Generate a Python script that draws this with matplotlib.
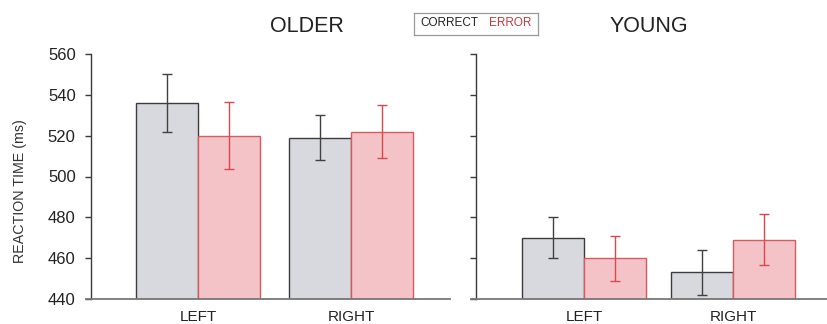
import matplotlib
matplotlib.use("Agg")
import matplotlib.pyplot as plt
import numpy as np

plt.rcParams['font.family'] = ['Liberation Sans', 'DejaVu Sans']

categories = ["LEFT", "RIGHT"]
panels = ["OLDER", "YOUNG"]
older_correct = [536, 519]
older_correct_err = [14, 11]
older_error = [520, 522]
older_error_err = [16.5, 13]
young_correct = [470, 453]
young_correct_err = [10, 11]
young_error = [460, 469]
young_error_err = [11, 12.5]
yticks = [440, 460, 480, 500, 520, 540, 560]

W, H = 828, 324
fig = plt.figure(figsize=(W / 100, H / 100), dpi=100)

gray_fill = '#d8d9de'
gray_edge = '#3c3c3c'
red_fill = '#f4c3c7'
red_edge = '#d65a5e'
red_err = '#d9484c'
gray_err = '#404040'

def px_axes(x0, x1, y0, y1):
    return fig.add_axes([x0 / W, (H - y1) / H, (x1 - x0) / W, (y1 - y0) / H])

specs = [
    dict(x0=86, x1=450, c0=198, spacing=153, data=(older_correct, older_correct_err, older_error, older_error_err), labels=True, title=panels[0], tx=307),
    dict(x0=471, x1=828, c0=584, spacing=149, data=(young_correct, young_correct_err, young_error, young_error_err), labels=False, title=panels[1], tx=649),
]

barw_px = 61.7
for s in specs:
    ax = px_axes(s['x0'], s['x1'], 54, 299)
    sp = s['spacing']
    ax.set_xlim((s['x0'] - s['c0']) / sp, (s['x1'] - s['c0']) / sp)
    ax.set_ylim(440, 560)
    bw = barw_px / sp
    x = np.arange(len(categories))
    c, ce, e, ee = s['data']
    ax.bar(x - bw / 2, np.array(c) - 440, bw, bottom=440, color=gray_fill, edgecolor=gray_edge, linewidth=1.0, zorder=2)
    ax.bar(x + bw / 2, np.array(e) - 440, bw, bottom=440, color=red_fill, edgecolor=red_edge, linewidth=1.0, zorder=2)
    ax.errorbar(x - bw / 2, c, yerr=ce, fmt='none', ecolor=gray_err, elinewidth=1.0, capsize=3.5, capthick=1.0, zorder=3)
    ax.errorbar(x + bw / 2, e, yerr=ee, fmt='none', ecolor=red_err, elinewidth=1.0, capsize=3.5, capthick=1.0, zorder=3)
    for k in ['top', 'right']:
        ax.spines[k].set_visible(False)
    ax.spines['left'].set_position(('axes', 5 / (s['x1'] - s['x0'])))
    ax.spines['left'].set_color('#3a3a3a')
    ax.spines['left'].set_linewidth(1.0)
    ax.spines['bottom'].set_color('#777777')
    ax.spines['bottom'].set_linewidth(1.3)
    ax.set_yticks(yticks)
    ax.tick_params(axis='y', length=4, width=1.0, color='#3a3a3a', pad=7, labelsize=12, labelcolor='#222222')
    if not s['labels']:
        ax.set_yticklabels([])
    ax.set_xticks(x)
    ax.set_xticklabels(categories)
    ax.tick_params(axis='x', length=0, pad=8, labelsize=11, labelcolor='#222222')
    ax.patch.set_alpha(0)
    fig.text(s['tx'] / W, 1 - 26 / H, s['title'], ha='center', va='center', fontsize=15.5, color='#222222')

# y label
fig.text(20 / W, 1 - 191 / H, "REACTION TIME (ms)", rotation=90, ha='center', va='center', fontsize=10.3, color='#333333')

# legend box
lax = fig.add_axes([414 / W, (H - 34.5) / H, (538 - 414) / W, 22 / H])
lax.set_xticks([]); lax.set_yticks([])
for sp_ in lax.spines.values():
    sp_.set_color('#999999'); sp_.set_linewidth(0.9)
lax.text(6 / 124, 0.5, "CORRECT", ha='left', va='center', fontsize=8.5, color='#222222', transform=lax.transAxes)
lax.text(75 / 124, 0.5, "ERROR", ha='left', va='center', fontsize=8.5, color='#c8373b', transform=lax.transAxes)

fig.savefig("out.png", dpi=100)
